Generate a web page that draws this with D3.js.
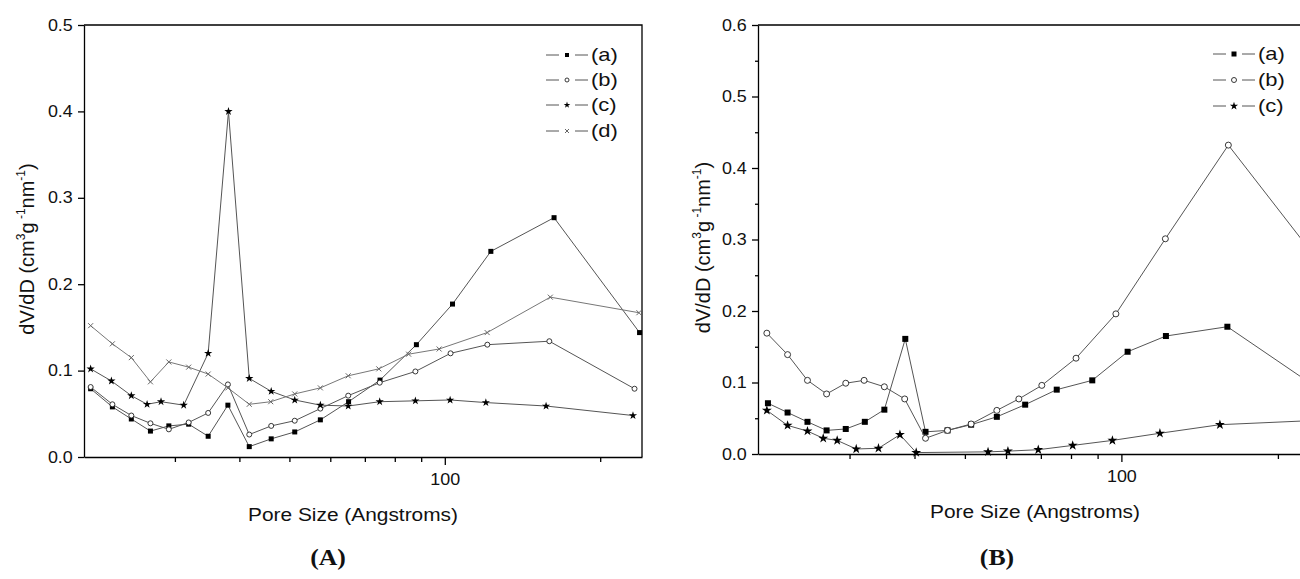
<!DOCTYPE html>
<html>
<head>
<meta charset="utf-8">
<script src="https://cdn.jsdelivr.net/npm/d3@7"></script>
<style>
  body { margin: 0; background: #fff; }
  svg { display: block; }
  text { font-family: "Liberation Sans", Arial, sans-serif; fill: #111; }
  .tick text { font-size: 16px; }
  .title { font-size: 18px; }
  .leg { font-size: 18px; }
  .panel { font-family: "Liberation Serif", "DejaVu Serif", serif; font-weight: bold; font-size: 23px; }
</style>
</head>
<body>
<svg id="chart" width="1300" height="579"></svg>
<script>
// ---- panel A : pore size (Å) / dV/dD ----
const poreA_a = [20.6, 22.7, 24.7, 26.9, 29.2, 31.9, 34.8, 38.0, 41.8, 46.1, 51.2, 57.4, 65.1, 74.9, 88.1, 103.5, 122.8, 162.8, 238.4];
const dvA_a   = [0.079, 0.058, 0.044, 0.030, 0.036, 0.038, 0.024, 0.060, 0.012, 0.021, 0.029, 0.043, 0.064, 0.089, 0.130, 0.177, 0.238, 0.277, 0.144];
const poreA_b = [20.6, 22.7, 24.7, 26.9, 29.2, 31.9, 34.8, 38.0, 41.8, 46.1, 51.2, 57.4, 65.0, 74.8, 87.7, 102.6, 120.9, 159.4, 233.1];
const dvA_b   = [0.081, 0.061, 0.048, 0.039, 0.032, 0.040, 0.051, 0.084, 0.026, 0.036, 0.042, 0.056, 0.071, 0.086, 0.099, 0.120, 0.130, 0.134, 0.079];
const poreA_c = [20.6, 22.6, 24.7, 26.5, 28.2, 31.2, 34.8, 38.1, 41.8, 46.1, 51.2, 57.4, 65.0, 74.8, 87.7, 102.4, 120.1, 157.1, 231.5];
const dvA_c   = [0.102, 0.088, 0.071, 0.061, 0.064, 0.060, 0.120, 0.400, 0.091, 0.076, 0.066, 0.060, 0.059, 0.064, 0.065, 0.066, 0.063, 0.059, 0.048];
const poreA_d = [20.6, 22.7, 24.7, 26.9, 29.2, 31.9, 34.8, 38.0, 41.8, 46.0, 51.2, 57.4, 65.0, 74.5, 85.1, 97.5, 120.8, 160.1, 237.7];
const dvA_d   = [0.152, 0.131, 0.115, 0.087, 0.110, 0.104, 0.096, 0.080, 0.061, 0.064, 0.073, 0.080, 0.094, 0.102, 0.119, 0.125, 0.144, 0.185, 0.167];

// ---- panel B ----
const poreB_a = [20.9, 22.8, 24.9, 27.1, 29.5, 32.1, 35.0, 38.4, 42.0, 46.3, 51.4, 57.6, 65.3, 75.1, 87.9, 102.8, 121.8, 159.9, 237.4];
const dvB_a   = [0.071, 0.058, 0.045, 0.033, 0.035, 0.045, 0.062, 0.161, 0.031, 0.033, 0.041, 0.052, 0.069, 0.090, 0.103, 0.143, 0.165, 0.178, 0.093];
const poreB_b = [20.8, 22.8, 24.9, 27.1, 29.5, 32.0, 35.0, 38.3, 42.0, 46.3, 51.4, 57.6, 63.5, 70.3, 81.8, 97.6, 121.5, 160.6, 237.4];
const dvB_b   = [0.169, 0.139, 0.103, 0.084, 0.099, 0.103, 0.094, 0.077, 0.022, 0.033, 0.042, 0.061, 0.077, 0.096, 0.134, 0.196, 0.301, 0.432, 0.273];
const poreB_c = [20.8, 22.8, 24.9, 26.7, 28.4, 30.9, 34.1, 37.5, 40.3, 55.4, 60.5, 69.2, 80.6, 96.1, 118.6, 154.7, 237.4];
const dvB_c   = [0.061, 0.040, 0.032, 0.022, 0.019, 0.007, 0.008, 0.027, 0.002, 0.003, 0.004, 0.006, 0.012, 0.019, 0.029, 0.041, 0.047];

// ticks / labels
const xDomain = [20, 241];
const xMajorTicks = [100];
const xMinorTicks = [30, 40, 50, 60, 70, 80, 90, 200];
const yTicksA = [0, 0.1, 0.2, 0.3, 0.4, 0.5];
const yTicksB = [0, 0.1, 0.2, 0.3, 0.4, 0.5, 0.6];
const yMinorB = [0.05, 0.15, 0.25, 0.35, 0.45, 0.55];
const legendA = ["(a)", "(b)", "(c)", "(d)"];
const legendB = ["(a)", "(b)", "(c)"];
const xTitle = "Pore Size (Angstroms)";
const panelLabels = ["(A)", "(B)"];

const svg = d3.select("#chart");
svg.append("rect").attr("width", 1300).attr("height", 579).attr("fill", "#fff");

const zip = (xs, ys) => xs.map((p, i) => ({ p, v: ys[i] }));

// marker drawer: a = filled square, b = open circle, c = star, d = grey cross
function marker(g, kind, s) {
  if (kind === "a") {
    g.append("rect").attr("x", -s / 2).attr("y", -s / 2).attr("width", s).attr("height", s).attr("fill", "#000");
  } else if (kind === "b") {
    g.append("circle").attr("r", s / 2).attr("fill", "#fff").attr("stroke", "#222").attr("stroke-width", 0.9);
  } else if (kind === "c") {
    g.append("path").attr("d", d3.symbol(d3.symbolStar, s * s * 0.85)()).attr("fill", "#000");
  } else {
    const r = s / 2;
    g.append("path").attr("d", `M${-r},${-r}L${r},${r}M${-r},${r}L${r},${-r}`)
      .attr("stroke", "#666").attr("stroke-width", 1).attr("fill", "none");
  }
}

function drawPanel(o) {
  const g = svg.append("g");
  const x = d3.scaleLog().domain(xDomain).range([o.left, o.right]);
  const y = d3.scaleLinear().domain([0, o.yMax]).range([o.bottom, o.top]);

  // top + right frame
  g.append("path")
    .attr("d", `M${o.left},${o.top}H${o.right}V${o.bottom}`)
    .attr("fill", "none").attr("stroke", "#000").attr("stroke-width", 1.3);

  // y axis
  g.append("g").attr("transform", `translate(${o.left},0)`)
    .call(d3.axisLeft(y).tickValues(o.yTicks).tickFormat(d3.format(".1f"))
      .tickSize(6).tickSizeOuter(0).tickPadding(4));
  if (o.yMinor) {
    g.append("g").attr("transform", `translate(${o.left},0)`)
      .call(d3.axisLeft(y).tickValues(o.yMinor).tickFormat("").tickSize(3))
      .select(".domain").remove();
  }

  // x axis (log)
  g.append("g").attr("transform", `translate(0,${o.bottom})`)
    .call(d3.axisBottom(x).tickValues(xMajorTicks).tickFormat(d3.format("d"))
      .tickSize(8).tickSizeOuter(0).tickPadding(9));
  g.append("g").attr("transform", `translate(0,${o.bottom})`)
    .call(d3.axisBottom(x).tickValues(xMinorTicks).tickFormat("").tickSize(5))
    .select(".domain").remove();

  g.selectAll(".domain, .tick line").attr("stroke", "#000").attr("stroke-width", 1.3);
  g.selectAll(".tick text").attr("transform", "scale(1.12,1)");

  // series lines + markers
  o.series.forEach(s => {
    const pts = zip(s.pore, s.dv);
    g.append("path").datum(pts)
      .attr("d", d3.line().x(d => x(d.p)).y(d => y(d.v)))
      .attr("fill", "none").attr("stroke", s.kind === "d" ? "#777" : "#555").attr("stroke-width", 1);
    g.selectAll(null).data(pts).enter().append("g")
      .attr("transform", d => `translate(${x(d.p)},${y(d.v)})`)
      .each(function () { marker(d3.select(this), s.kind, o.mk); });
  });

  // legend
  o.legend.forEach((lab, i) => {
    const ly = o.legY[i];
    const lg = g.append("g");
    lg.append("line").attr("x1", o.legX).attr("x2", o.legX + 13).attr("y1", ly).attr("y2", ly)
      .attr("stroke", "#555");
    lg.append("line").attr("x1", o.legX + 29).attr("x2", o.legX + 42).attr("y1", ly).attr("y2", ly)
      .attr("stroke", "#555");
    const m = lg.append("g").attr("transform", `translate(${o.legX + 21},${ly})`);
    marker(m, "abcd"[i], o.legMk);
    lg.append("text").attr("class", "leg")
      .attr("transform", `translate(${o.legX + 45},${ly + 6}) scale(1.22,1)`)
      .text(lab);
  });

  // axis titles
  g.append("text").attr("class", "title").attr("text-anchor", "middle")
    .attr("transform", `translate(${o.xTitleX},${o.bottom + 64}) scale(1.16,1)`)
    .text(xTitle);

  const yt = g.append("text").attr("class", "title").attr("text-anchor", "middle")
    .attr("transform", `translate(${o.yTitleX},${(o.top + o.bottom) / 2 + 8}) rotate(-90)`)
    .style("font-size", "20px");
  yt.append("tspan").text("dV/dD (cm");
  yt.append("tspan").attr("dy", -9).style("font-size", "12px").text("3");
  yt.append("tspan").attr("dy", 9).text("g");
  yt.append("tspan").attr("dy", -9).style("font-size", "12px").text(" -1");
  yt.append("tspan").attr("dy", 9).text("nm");
  yt.append("tspan").attr("dy", -9).style("font-size", "12px").text("-1");
  yt.append("tspan").attr("dy", 9).text(")");

  // panel label
  g.append("text").attr("class", "panel").attr("text-anchor", "middle")
    .attr("transform", `translate(${o.panelX},565) scale(1.12,1)`)
    .text(o.panelLabel);
}

drawPanel({
  left: 84, right: 642, top: 25, bottom: 457, yMax: 0.5,
  yTicks: yTicksA, yMinor: null, mk: 5,
  series: [
    { kind: "a", pore: poreA_a, dv: dvA_a },
    { kind: "b", pore: poreA_b, dv: dvA_b },
    { kind: "c", pore: poreA_c, dv: dvA_c },
    { kind: "d", pore: poreA_d, dv: dvA_d }
  ],
  legend: legendA, legX: 546, legY: [55, 80, 105, 131], legMk: 4,
  xTitleX: 353, yTitleX: 34, panelX: 328, panelLabel: panelLabels[0]
});

drawPanel({
  left: 758, right: 1320, top: 25, bottom: 454, yMax: 0.6,
  yTicks: yTicksB, yMinor: yMinorB, mk: 6,
  series: [
    { kind: "a", pore: poreB_a, dv: dvB_a },
    { kind: "b", pore: poreB_b, dv: dvB_b },
    { kind: "c", pore: poreB_c, dv: dvB_c }
  ],
  legend: legendB, legX: 1213, legY: [54, 80, 106], legMk: 5,
  xTitleX: 1035, yTitleX: 710, panelX: 997, panelLabel: panelLabels[1]
});
</script>
</body>
</html>
